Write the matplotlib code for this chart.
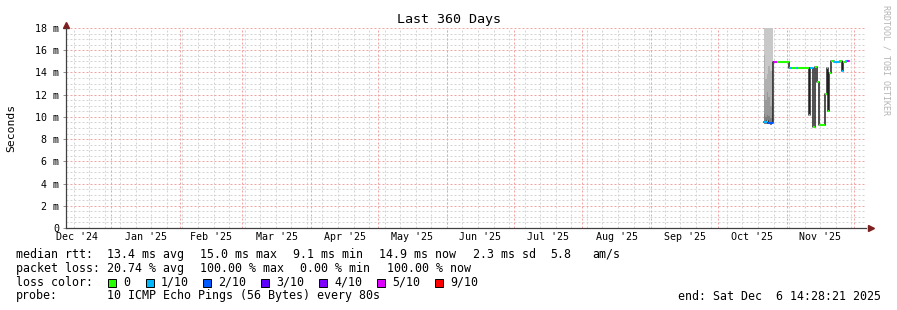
import matplotlib
matplotlib.use("Agg")
import matplotlib.pyplot as plt
import matplotlib.dates as mdates
from matplotlib.patches import Rectangle
import pandas as pd
import numpy as np

# ---------------- data ----------------
graph_start = "2024-12-11 14:28:21"
graph_end = "2025-12-06 14:28:21"

# median RTT steps (ms) and lost pings (of 10) per step
seg_start = [
    "2025-10-21 17:00", "2025-10-22 20:00", "2025-10-23 17:00", "2025-10-25 14:00",
    "2025-10-26 10:00", "2025-10-27 13:00", "2025-11-01 23:00", "2025-11-03 07:00",
    "2025-11-05 02:00", "2025-11-06 00:00", "2025-11-10 23:00", "2025-11-11 15:00",
    "2025-11-12 18:00", "2025-11-13 16:00", "2025-11-14 13:00", "2025-11-15 11:00",
    "2025-11-18 04:00", "2025-11-18 20:00", "2025-11-19 12:00", "2025-11-20 04:00",
    "2025-11-20 20:00", "2025-11-22 05:00", "2025-11-24 22:00", "2025-11-25 19:00",
    "2025-11-26 11:00", "2025-11-27 14:00", "2025-11-28 01:00",
]
seg_end = "2025-11-29 04:00"
seg_median = [
    9.55, 9.6, 9.45, 14.95,
    14.95, 14.97, 14.37, 14.37,
    14.37, 14.37, 10.2, 14.37,
    9.05, 14.45, 13.1, 9.25,
    12.06, 14.4, 10.5, 13.95,
    15.0, 14.95, 15.0, 14.1,
    14.95, 15.0, 15.0,
]
seg_loss = [
    1, 0, 2, 9,
    5, 0, 1, 0,
    1, 0, 0, 1,
    0, 0, 0, 0,
    0, 0, 0, 0,
    0, 1, 0, 1,
    0, 1, 5,
]

# smoke (ping spread, ms)
smoke_start = ["2025-10-21 17:00", "2025-10-22 09:00", "2025-10-23 01:00",
               "2025-10-23 17:00", "2025-10-24 10:00", "2025-10-25 02:00"]
smoke_end = "2025-10-25 14:00"
smoke_min = [9.35, 9.4, 9.4, 9.35, 9.3, 9.35]
smoke_q1 = [10.3, 10.0, 10.2, 10.1, 9.9, 10.2]
smoke_q2 = [12.0, 11.5, 12.2, 11.8, 11.0, 11.6]
smoke_q3 = [15.6, 13.4, 13.9, 14.6, 14.1, 14.2]
smoke_max = [19.5, 19.5, 19.5, 19.5, 19.5, 19.5]

loss_levels = [0, 1, 2, 3, 4, 5, 9]
loss_labels = ["0", "1/10", "2/10", "3/10", "4/10", "5/10", "9/10"]
loss_colors = ["#26ff00", "#00b8ff", "#0059ff", "#5e00ff", "#7e00ff", "#dd00ff", "#ff0000"]

y_ticks = [0, 2, 4, 6, 8, 10, 12, 14, 16, 18]
y_labels = ["0", "2 m", "4 m", "6 m", "8 m", "10 m", "12 m", "14 m", "16 m", "18 m"]
month_names = ["Dec '24", "Jan '25", "Feb '25", "Mar '25", "Apr '25", "May '25",
               "Jun '25", "Jul '25", "Aug '25", "Sep '25", "Oct '25", "Nov '25"]

title = "Last 360 Days"
legend_rtt = ["median rtt:", "13.4 ms avg", "15.0 ms max", "9.1 ms min",
              "14.9 ms now", "2.3 ms sd", "5.8", "am/s"]
legend_loss = ["packet loss:", "20.74 % avg", "100.00 % max", "0.00 % min", "100.00 % now"]
probe_text = ["probe:", "10 ICMP Echo Pings (56 Bytes) every 80s"]
end_text = "end: Sat Dec  6 14:28:21 2025"

# ---------------- figure ----------------
W, H = 897, 310
MONO = "DejaVu Sans Mono"
plt.rcParams["font.family"] = [MONO]

fig = plt.figure(figsize=(W / 100, H / 100), dpi=100)
fig.patch.set_facecolor("white")
L, R, T, B = 66, 866, 28, 228
ax = fig.add_axes([L / W, 1 - B / H, (R - L) / W, (B - T) / H])
ax.set_facecolor("white")

t0 = pd.Timestamp(graph_start)
t1 = pd.Timestamp(graph_end)
ax.set_xlim(t0, t1)
ax.set_ylim(0, 18)

# grid (dotted)
minor_y = [v for v in np.arange(0.5, 18.01, 0.5) if v % 2 != 0]
major_y = [v for v in y_ticks if v > 0]
weeks = pd.date_range("2024-12-15", graph_end, freq="7D")
months = pd.date_range("2025-01-01", graph_end, freq="MS")
gkw = dict(lw=0.72, dashes=(2, 2), antialiased=True)
for v in minor_y:
    ax.axhline(v, color="#d4d4d4", zorder=0.5, **gkw)
for d in weeks:
    ax.axvline(d, color="#d4d4d4", zorder=0.5, **gkw)
for v in major_y:
    ax.axhline(v, color="#f2a4a4", zorder=0.6, **gkw)
for d in months:
    ax.axvline(d, color="#f2a4a4", zorder=0.6, **gkw)

# smoke
sx = pd.to_datetime(smoke_start + [smoke_end])
def ext(a):
    return list(a) + [a[-1]]
ax.fill_between(sx, ext(smoke_min), ext(smoke_max), step="post", color="#c8c8c8", lw=0, zorder=1)
ax.fill_between(sx, ext(smoke_min), ext(smoke_q3), step="post", color="#b0b0b0", lw=0, zorder=1.1)
ax.fill_between(sx, ext(smoke_min), ext(smoke_q2), step="post", color="#989898", lw=0, zorder=1.2)
ax.fill_between(sx, ext(smoke_min), ext(smoke_q1), step="post", color="#7e7e7e", lw=0, zorder=1.3)

# median line (black) + loss-coloured segments
mx = pd.to_datetime(seg_start + [seg_end])
ax.step(mx, ext(seg_median), where="post", color="#202020", lw=1.1, zorder=2)
color_of = dict(zip(loss_levels, loss_colors))
for i in range(len(seg_start)):
    ax.hlines(seg_median[i], mx[i], mx[i + 1], colors=color_of[seg_loss[i]], lw=1.5, zorder=3)

# axes
for s in ["top", "right"]:
    ax.spines[s].set_visible(False)
for s in ["left", "bottom"]:
    ax.spines[s].set_color("#404040")
    ax.spines[s].set_linewidth(0.9)
ax.plot([1.006], [0], marker=">", ms=4, color="#7f1f1f", transform=ax.transAxes, clip_on=False)
ax.plot([0], [1.015], marker="^", ms=4, color="#7f1f1f", transform=ax.transAxes, clip_on=False)

ax.set_yticks(y_ticks, y_labels)
mids = [pd.Timestamp(f"{y}-{m:02d}-01") + (pd.Timestamp(f"{y}-{m:02d}-01") + pd.offsets.MonthBegin(1) - pd.Timestamp(f"{y}-{m:02d}-01")) / 2
        for y, m in [(2024, 12)] + [(2025, k) for k in range(1, 12)]]
ax.set_xticks(mids, month_names)
ax.tick_params(axis="x", length=0, pad=3.2, labelsize=7.2)
ax.tick_params(axis="y", length=2.2, width=0.7, color="#909090", pad=2.6, labelsize=7.2)

# titles / labels
def ftext(x, y, s, **kw):
    fig.text(x / W, 1 - y / H, s, **kw)

ftext(448.5, 19, title, ha="center", va="center", fontsize=9.6)
ftext(11, 128, "Seconds", ha="center", va="center", rotation=90, fontsize=8.2)
ftext(886, 60, "RRDTOOL / TOBI OETIKER", ha="center", va="center", rotation=270,
      fontsize=6, color="#b4b4b4")

FS = 8.4
xs_rtt = [16, 107.3, 200, 293.3, 379.3, 472.7, 550, 592.7]
for x, s in zip(xs_rtt, legend_rtt):
    ftext(x, 254.3, s, ha="left", va="center", fontsize=FS)
xs_loss = [16, 107.3, 200, 300, 386.7]
for x, s in zip(xs_loss, legend_loss):
    ftext(x, 268.3, s, ha="left", va="center", fontsize=FS)
ftext(16, 282.3, "loss color:", ha="left", va="center", fontsize=FS)
box_x = [108, 146, 203, 261, 319, 377, 435]
for bx, c, lab in zip(box_x, loss_colors, loss_labels):
    fig.patches.append(Rectangle((bx / W, 1 - 286.5 / H), 8 / W, 8 / H, transform=fig.transFigure,
                                 facecolor=c, edgecolor="black", lw=0.7))
    ftext(bx + 15, 282.3, lab, ha="left", va="center", fontsize=FS)
ftext(16, 296, probe_text[0], ha="left", va="center", fontsize=FS)
ftext(107.3, 296, probe_text[1], ha="left", va="center", fontsize=FS)
ftext(880.5, 296, end_text, ha="right", va="center", fontsize=FS)

fig.savefig("out.png", dpi=100, facecolor="white")
